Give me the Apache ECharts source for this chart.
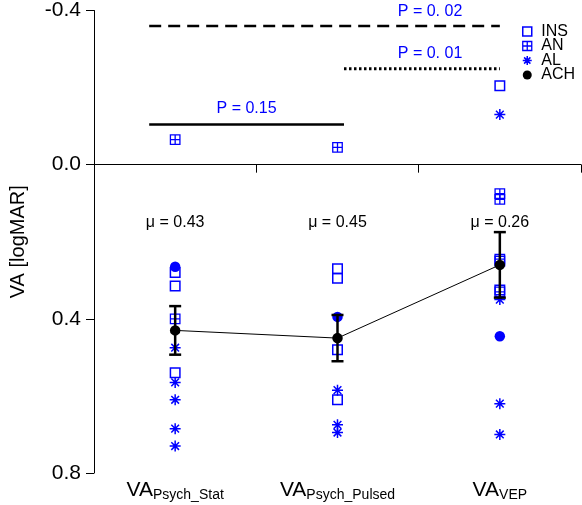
<!DOCTYPE html>
<html>
<head>
<meta charset="utf-8">
<script src="https://cdn.jsdelivr.net/npm/echarts@6/dist/echarts.min.js"></script>
<style>html,body{margin:0;padding:0;background:#fff;}#c{width:582px;height:505px;}</style>
</head>
<body>
<div id="c"></div>
<script>
// ---- data ----
var categories = ['Psych_Stat', 'Psych_Pulsed', 'VEP'];
var yTicks = [-0.4, 0.0, 0.4, 0.8];
// [category index, VA logMAR]
var insData = [[0, 0.28], [0, 0.315], [0, 0.54], [1, 0.27], [1, 0.295], [1, 0.48], [1, 0.61], [2, -0.205], [2, 0.25], [2, 0.325]];
var anData = [[0, -0.065], [0, 0.40], [1, -0.045], [2, 0.075], [2, 0.09], [2, 0.245], [2, 0.33]];
var alData = [[0, 0.475], [0, 0.565], [0, 0.61], [0, 0.685], [0, 0.73], [1, 0.585], [1, 0.675], [1, 0.695], [2, -0.13], [2, 0.35], [2, 0.62], [2, 0.70]];
var achData = [[0, 0.265], [1, 0.395], [2, 0.445]];
var means = [0.43, 0.45, 0.26];
var sems = [0.063, 0.06, 0.085];
var muLabels = ['\u03bc = 0.43', '\u03bc = 0.45', '\u03bc = 0.26'];
var muLabelY = 0.15;
// significance brackets: x in category-span units (0..3), y in logMAR
var sigX0 = [0.34, 0.34, 1.54];
var sigX1 = [1.54, 2.5, 2.5];
var sigY = [-0.104, -0.36, -0.249];
var sigType = ['solid', 'dashed', 'dotted'];
var sigText = ['P = 0.15', 'P = 0. 02', 'P = 0. 01'];
var sigTextX = [0.94, 2.07, 2.07];
var sigTextY = [-0.145, -0.397, -0.288];

var BLUE = '#0000ff';
var FONT = 'Liberation Sans, Arial, Helvetica, sans-serif';
var SQUARE = 'path://M0,0 L10,0 L10,10 L0,10 Z';
var GRIDSQ = 'path://M0,0 L10,0 L10,10 L0,10 Z M5,0 L5,10 M0,5 L10,5';
var STAR = 'path://M5,0 L5,10 M0,5 L10,5 M1.5,1.5 L8.5,8.5 M8.5,1.5 L1.5,8.5';
var openStyle = { color: 'rgba(0,0,0,0)', borderColor: BLUE, borderWidth: 1.5, opacity: 1 };

var series = [];
series.push({
  name: 'INS', type: 'scatter', data: insData, symbol: SQUARE, symbolSize: 9.5,
  itemStyle: openStyle, z: 3
});
series.push({
  name: 'AN', type: 'scatter', data: anData, symbol: GRIDSQ, symbolSize: 9.5,
  itemStyle: { color: 'rgba(0,0,0,0)', borderColor: BLUE, borderWidth: 1.3, opacity: 1 }, z: 3
});
series.push({
  name: 'AL', type: 'scatter', data: alData, symbol: STAR, symbolSize: 11,
  itemStyle: openStyle, z: 3
});
series.push({
  name: 'ACH', type: 'scatter', data: achData, symbol: 'circle', symbolSize: 10.5,
  itemStyle: { color: BLUE, opacity: 1 }, z: 4
});
// error bars
series.push({
  type: 'custom', z: 5, silent: true,
  data: means.map(function (m, i) { return [i, m - sems[i], m + sems[i]]; }),
  renderItem: function (params, api) {
    var a = api.coord([api.value(0), api.value(1)]);
    var b = api.coord([api.value(0), api.value(2)]);
    var w = 6;
    var st = { stroke: '#000', lineWidth: 2.5 };
    return { type: 'group', children: [
      { type: 'line', shape: { x1: a[0], y1: a[1], x2: b[0], y2: b[1] }, style: st },
      { type: 'line', shape: { x1: a[0] - w, y1: a[1], x2: a[0] + w, y2: a[1] }, style: st },
      { type: 'line', shape: { x1: b[0] - w, y1: b[1], x2: b[0] + w, y2: b[1] }, style: st }
    ] };
  }
});
// mean line
series.push({
  type: 'line', data: means.map(function (m, i) { return [i, m]; }),
  symbol: 'circle', symbolSize: 10.5, showSymbol: true,
  itemStyle: { color: '#000', opacity: 1 }, lineStyle: { color: '#000', width: 1 }, z: 6, silent: true
});
// mu labels
series.push({
  type: 'scatter', symbolSize: 0, silent: true, z: 7,
  itemStyle: { opacity: 1 },
  data: muLabels.map(function (t, i) { return { value: [i, muLabelY], name: t }; }),
  label: { show: true, position: 'inside', formatter: '{b}', color: '#000', fontSize: 16, fontFamily: FONT }
});
// significance lines
for (var k = 0; k < sigX0.length; k++) {
  series.push({
    type: 'line', xAxisIndex: 1, silent: true, symbol: 'none', z: 2,
    data: [[sigX0[k], sigY[k]], [sigX1[k], sigY[k]]],
    lineStyle: { color: '#000', width: sigType[k] === 'dotted' ? 3 : 2.5, type: sigType[k] === 'dashed' ? [12, 7] : (sigType[k] === 'dotted' ? [2.5, 2.5] : 'solid') }
  });
}
series.push({
  type: 'scatter', xAxisIndex: 1, symbolSize: 0, silent: true, z: 7,
  itemStyle: { opacity: 1 },
  data: sigText.map(function (t, i) { return { value: [sigTextX[i], sigTextY[i]], name: t }; }),
  label: { show: true, position: 'inside', formatter: '{b}', color: BLUE, fontSize: 16, fontFamily: FONT }
});

var chart = echarts.init(document.getElementById('c'), null, { renderer: 'canvas' });
chart.setOption({
  animation: false,
  backgroundColor: '#fff',
  textStyle: { fontFamily: FONT },
  grid: { left: 93, right: 1, top: 10, bottom: 32, containLabel: false },
  legend: {
    data: [
      { name: 'INS', icon: SQUARE, itemStyle: { color: 'rgba(0,0,0,0)', borderColor: BLUE, borderWidth: 1.5 } },
      { name: 'AN', icon: GRIDSQ, itemStyle: { color: 'rgba(0,0,0,0)', borderColor: BLUE, borderWidth: 1.3 } },
      { name: 'AL', icon: STAR, itemStyle: { color: 'rgba(0,0,0,0)', borderColor: BLUE, borderWidth: 1.5 } },
      { name: 'ACH', icon: 'circle', itemStyle: { color: '#000' } }
    ],
    orient: 'vertical', left: 522, top: 23.5,
    itemWidth: 18, itemHeight: 9, itemGap: -1.5, padding: 0,
    textStyle: { fontSize: 16, color: '#000', fontFamily: FONT }
  },
  xAxis: [{
    type: 'category', data: categories, boundaryGap: true,
    axisLine: { show: true, lineStyle: { color: '#000', width: 1 } },
    axisTick: { show: true, length: 8, lineStyle: { color: '#000' } },
    axisLabel: {
      margin: 5, interval: 0,
      formatter: function (v) { return '{a|VA}{b|' + v + '}'; },
      rich: {
        a: { fontSize: 21, lineHeight: 24, color: '#000', fontFamily: FONT },
        b: { fontSize: 14, lineHeight: 12, verticalAlign: 'bottom', color: '#000', fontFamily: FONT }
      }
    },
    splitLine: { show: false }
  }, {
    type: 'value', min: 0, max: 3, show: false
  }],
  yAxis: {
    type: 'value', inverse: true, min: -0.4, max: 0.8, interval: 0.4,
    name: 'VA [logMAR]', nameLocation: 'middle', nameRotate: 90, nameGap: 66,
    nameTextStyle: { fontSize: 20, color: '#000', fontFamily: FONT },
    axisLine: { show: true, lineStyle: { color: '#000', width: 1 } },
    axisTick: { show: true, length: 8, lineStyle: { color: '#000' } },
    axisLabel: {
      margin: 13, fontSize: 21, color: '#000', fontFamily: FONT,
      formatter: function (v) { return v.toFixed(1); }
    },
    splitLine: { show: false }
  },
  series: series
});
</script>
</body>
</html>
